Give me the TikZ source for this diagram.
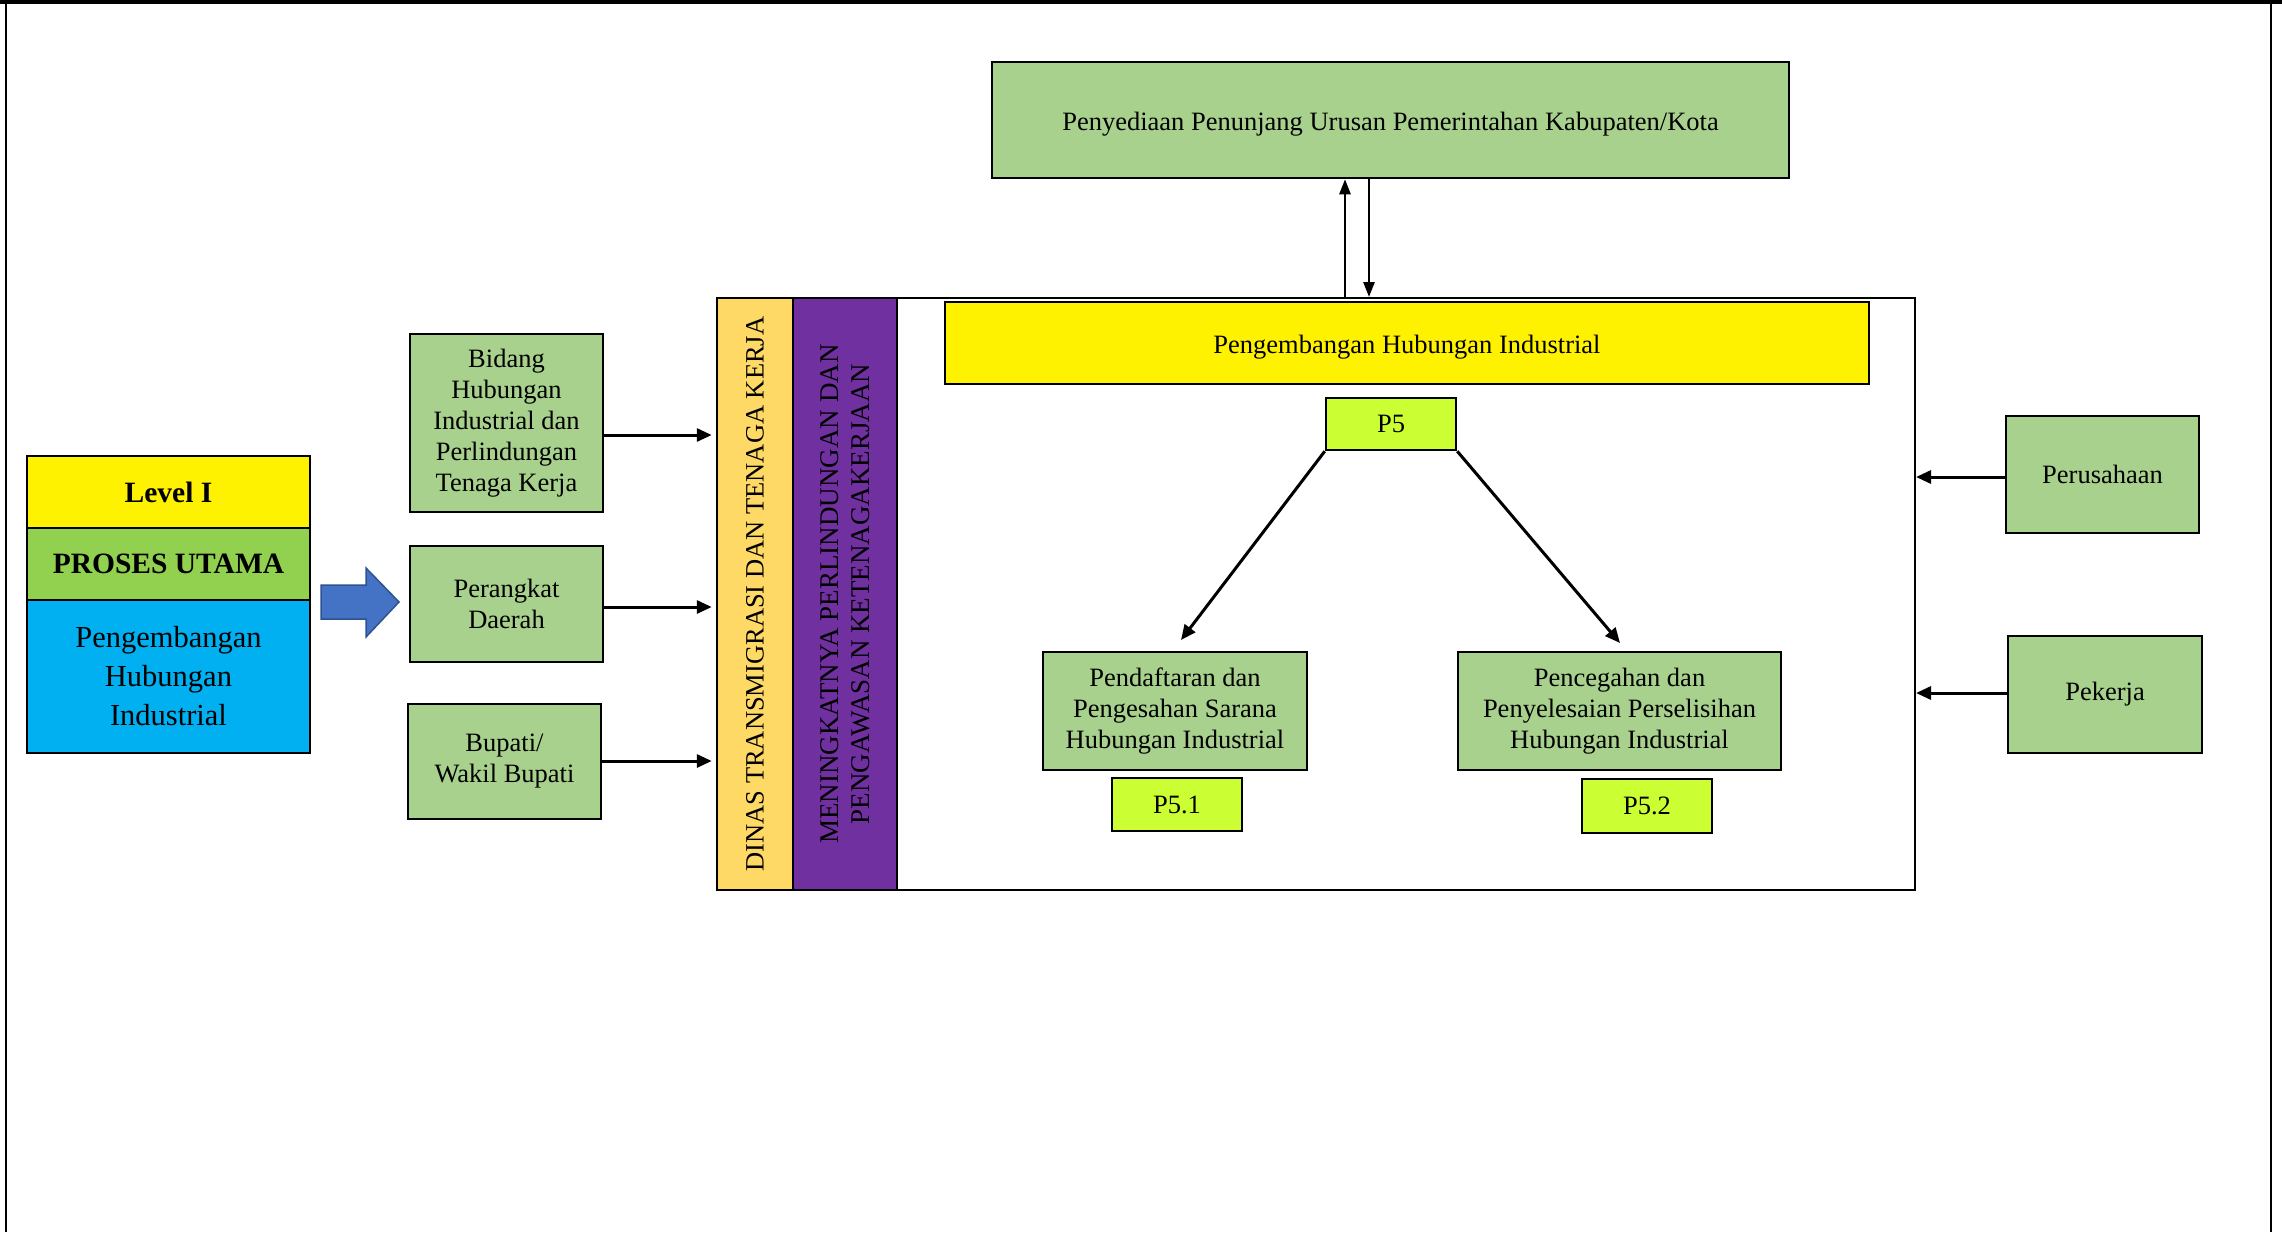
\documentclass[tikz,border=0pt]{standalone}
\usepackage{fontspec}
\setmainfont{Liberation Serif}
\usetikzlibrary{arrows.meta,calc}
\definecolor{lgreen}{HTML}{A9D18E}
\definecolor{pgreen}{HTML}{92D050}
\definecolor{sky}{HTML}{00B0F0}
\definecolor{lime}{HTML}{CCFF33}
\definecolor{gold}{HTML}{FFD966}
\definecolor{purp}{HTML}{7030A0}
\definecolor{arrblue}{HTML}{4472C4}
\definecolor{arrblueb}{HTML}{2F528F}
\tikzset{
  base/.style={draw=black, line width=2.5pt, inner sep=0pt, align=center, font=\fontsize{26.5}{31}\selectfont},
  gbox/.style={base, fill=lgreen},
  pbox/.style={base, fill=lime},
  conn/.style={line width=3pt, -{Triangle[length=15pt,width=13pt]}},
  thinconn/.style={line width=2.5pt, -{Triangle[length=15pt,width=11pt]}},
}
\begin{document}
\begin{tikzpicture}[x=1pt,y=-1pt]
\useasboundingbox (0,0) rectangle (2282,1232);
\fill[white] (0,0) rectangle (2282,1232);
% frame
\draw[line width=3.5pt] (0,1.75) -- (2282,1.75);
\draw[line width=2pt] (6,0) -- (6,1232);
\draw[line width=2pt] (2271,0) -- (2271,1232);

% left legend
\node[base, fill=yellow, minimum width=283pt, minimum height=72pt, font=\fontsize{29.5}{35}\selectfont\bfseries] (level) at (168.5,492) {Level I};
\node[base, fill=pgreen, minimum width=283pt, minimum height=72pt, font=\fontsize{29.5}{35}\selectfont\bfseries] (proses) at (168.5,564) {PROSES UTAMA};
\node[base, fill=sky, minimum width=283pt, minimum height=153pt, font=\fontsize{30.5}{39}\selectfont] (phi) at (168.5,676.5) {Pengembangan\\Hubungan\\Industrial};
\draw[line width=1.5pt, draw=arrblueb, fill=arrblue] (321,585) -- (366,585) -- (366,568) -- (399,602) -- (366,637) -- (366,619) -- (321,619) -- cycle;

% inputs
\node[gbox, minimum width=193pt, minimum height=178pt] (bidang) at (506.5,423) {Bidang\\Hubungan\\Industrial dan\\Perlindungan\\Tenaga Kerja};
\node[gbox, minimum width=193pt, minimum height=116pt] (perangkat) at (506.5,604) {Perangkat\\Daerah};
\node[gbox, minimum width=193pt, minimum height=115pt] (bupati) at (504.5,761.5) {Bupati/\\Wakil Bupati};

% main box and columns
\node[draw=black, line width=2pt, minimum width=1018pt, minimum height=592pt, inner sep=0pt] (main) at (1406,594) {};
\node[base, fill=gold, rotate=90, minimum width=592pt, minimum height=76pt, font=\fontsize{26.5}{31}\selectfont] (dinas) at (755,594) {DINAS TRANSMIGRASI DAN TENAGA KERJA};
\node[base, fill=purp, rotate=90, minimum width=592pt, minimum height=104pt, font=\fontsize{27}{31}\selectfont] (mening) at (845,594) {MENINGKATNYA PERLINDUNGAN DAN\\PENGAWASAN KETENAGAKERJAAN};

\draw[conn, shorten >=4pt] (bidang.east |- 0,435) -- (dinas.north |- 0,435);
\draw[conn, shorten >=4pt] (perangkat.east |- 0,607) -- (dinas.north |- 0,607);
\draw[conn, shorten >=4pt] (bupati.east |- 0,761) -- (dinas.north |- 0,761);

% top box
\node[gbox, minimum width=797pt, minimum height=116pt] (penyediaan) at (1390.5,120) {};
\node[font=\fontsize{26.5}{31}\selectfont] (penytext) at (1390.5,124) {Penyediaan Penunjang Urusan Pemerintahan Kabupaten/Kota};
\draw[thinconn] (main.north -| 1345,0) -- (penyediaan.south -| 1345,0);
\draw[thinconn] (penyediaan.south -| 1369,0) -- (main.north -| 1369,0);

% inner content
\node[base, fill=yellow, minimum width=924pt, minimum height=82pt] (header) at (1407,343) {};
\node[font=\fontsize{26.5}{31}\selectfont] (headtext) at (1407,347) {Pengembangan Hubungan Industrial};
\node[pbox, minimum width=130pt, minimum height=52pt] (p5) at (1391,424) {P5};
\node[gbox, minimum width=264pt, minimum height=118pt] (pend) at (1175,711) {Pendaftaran dan\\Pengesahan Sarana\\Hubungan Industrial};
\node[gbox, minimum width=323pt, minimum height=118pt] (pence) at (1619.5,711) {Pencegahan dan\\Penyelesaian Perselisihan\\Hubungan Industrial};
\node[pbox, minimum width=130pt, minimum height=53pt] (p51) at (1177,804.5) {P5.1};
\node[pbox, minimum width=130pt, minimum height=54pt] (p52) at (1647,806) {P5.2};
\coordinate (t1) at (1181,640);
\coordinate (t2) at (1620,643);
\draw[conn] (p5.south west) -- (t1);
\draw[conn] (p5.south east) -- (t2);

% right inputs
\node[gbox, minimum width=193pt, minimum height=117pt] (perus) at (2102.5,474.5) {Perusahaan};
\node[gbox, minimum width=194pt, minimum height=117pt] (pekerja) at (2105,694.5) {Pekerja};
\draw[conn] (perus.west |- 0,477) -- (main.east |- 0,477);
\draw[conn] (pekerja.west |- 0,693) -- (main.east |- 0,693);
\end{tikzpicture}
\end{document}
